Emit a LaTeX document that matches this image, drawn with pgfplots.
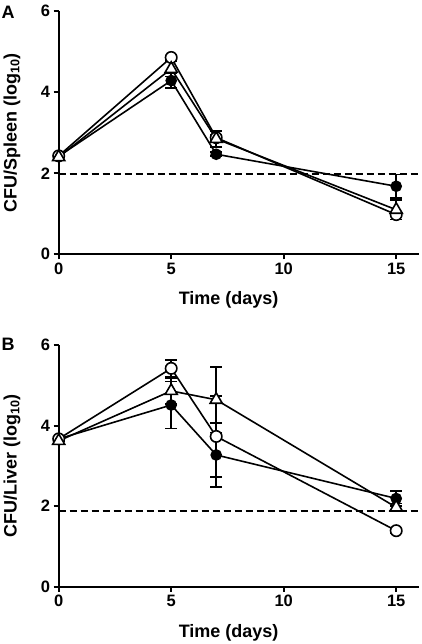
\documentclass[border=0pt]{standalone}
\usepackage{fontspec}
\setmainfont{Liberation Sans}
\usepackage{pgfplots}
\usepackage{pgfplotstable}
\pgfplotsset{compat=1.18}

% Panel A (spleen)
\pgfplotstableread{
x y e
0 2.42 0.00
5 4.29 0.18
7 2.47 0.05
15 1.68 0.29
}\Afilled
\pgfplotstableread{
x y e
0 2.43 0.00
5 4.86 0.05
7 2.88 0.08
15 0.98 0.05
}\Aopen
\pgfplotstableread{
x y e
0 2.40 0.00
5 4.58 0.19
7 2.85 0.20
15 1.10 0.24
}\Atri
% Panel B (liver)
\pgfplotstableread{
x y e
0 3.67 0.00
5 4.51 0.58
7 3.27 0.79
15 2.19 0.19
}\Bfilled
\pgfplotstableread{
x y e
0 3.67 0.00
5 5.42 0.21
7 3.73 1.00
15 1.39 0.05
}\Bopen
\pgfplotstableread{
x y e
0 3.62 0.00
5 4.86 0.32
7 4.64 0.81
15 1.97 0.10
}\Btri

\newcommand{\labfont}{\fontsize{18}{20}\selectfont\bfseries}
\pgfplotsset{
  panel/.style={
    scale only axis, width=360pt,
    xmin=0, xmax=16, ymin=0, ymax=6,
    axis x line*=bottom, axis y line*=left,
    axis line style={line width=2pt, -},
    xtick={0,5,10,15}, ytick={0,2,4,6},
    tick style={line width=2pt, black},
    tick align=outside, major tick length=5pt,
    tick label style={font=\fontsize{16.5}{18}\selectfont\bfseries},
    /pgf/number format/assume math mode=true,
    clip=false,
  },
  ser/.style={black, line width=1.6pt,
    error bars/y dir=both, error bars/y explicit,
    error bars/error bar style={line width=1.6pt},
    error bars/error mark options={rotate=90, mark size=6pt, line width=1.6pt}},
  filled/.style={ser, mark=*, mark size=5pt, mark options={fill=black, solid}},
  open/.style={ser, mark=*, mark size=5.7pt, mark options={fill=white, solid}},
  tri/.style={ser, mark=triangle*, mark size=7pt, mark options={fill=white, solid}},
  dl/.style={black, line width=2pt, dash pattern=on 7.3pt off 3.7pt},
}

\begin{document}
\begin{tikzpicture}
\useasboundingbox (0,0) rectangle (422pt,644pt);
% Panel A
\begin{axis}[panel, height=243pt, at={(58.7pt,389.7pt)}, anchor=south west,
  xlabel={Time (days)}, ylabel={CFU/Spleen (log\textsubscript{10})},
  every axis x label/.style={at={(axis description cs:0.472,-0.188)}, anchor=center, font=\labfont},
  every axis y label/.style={at={(axis description cs:-0.13,0.5)}, rotate=90, anchor=center, font=\labfont}]
\addplot[dl] coordinates {(0,1.98) (16,1.98)};
\addplot[filled] table[x=x, y=y, y error=e] {\Afilled};
\addplot[open] table[x=x, y=y, y error=e] {\Aopen};
\addplot[tri] table[x=x, y=y, y error=e] {\Atri};
\end{axis}
% Panel B
\begin{axis}[panel, height=241.7pt, at={(58.7pt,57.3pt)}, anchor=south west,
  xlabel={Time (days)}, ylabel={CFU/Liver (log\textsubscript{10})},
  every axis x label/.style={at={(axis description cs:0.472,-0.19)}, anchor=center, font=\labfont},
  every axis y label/.style={at={(axis description cs:-0.13,0.5)}, rotate=90, anchor=center, font=\labfont}]
\addplot[dl] coordinates {(0,1.89) (16,1.89)};
\addplot[filled] table[x=x, y=y, y error=e] {\Bfilled};
\addplot[open] table[x=x, y=y, y error=e] {\Bopen};
\addplot[tri] table[x=x, y=y, y error=e] {\Btri};
\end{axis}
\node[anchor=north west, inner sep=0pt, font=\fontsize{18}{20}\selectfont\bfseries] at (1.5pt,638pt) {A};
\node[anchor=north west, inner sep=0pt, font=\fontsize{18}{20}\selectfont\bfseries] at (1.5pt,306pt) {B};
\end{tikzpicture}
\end{document}
